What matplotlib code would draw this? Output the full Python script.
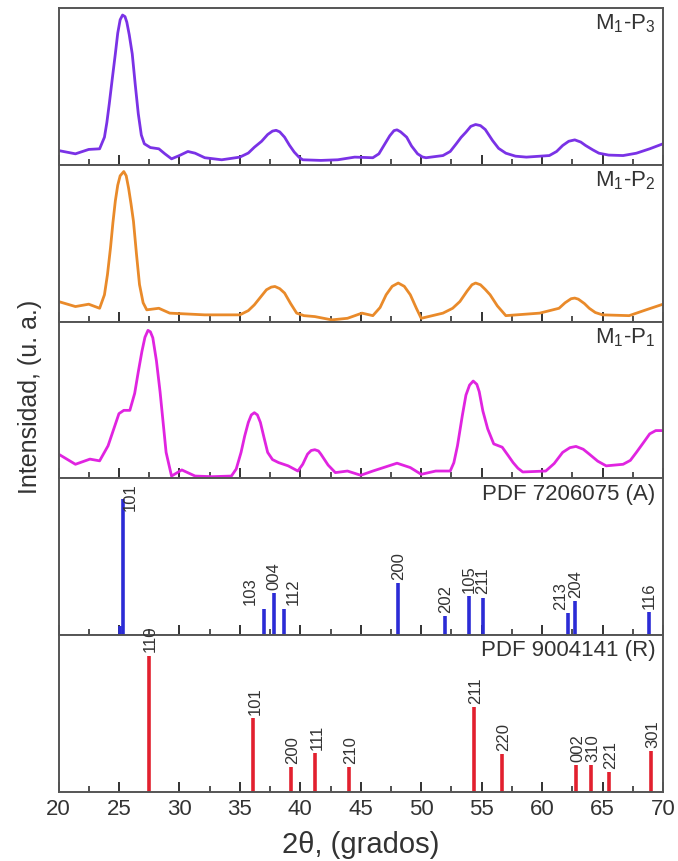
import matplotlib
matplotlib.use("Agg")
import matplotlib.pyplot as plt
from matplotlib.ticker import MultipleLocator

plt.rcParams['font.family'] = ['Liberation Sans', 'DejaVu Sans']
plt.rcParams['mathtext.fontset'] = 'custom'
plt.rcParams['mathtext.rm'] = 'Liberation Sans'
plt.rcParams['mathtext.it'] = 'Liberation Sans:italic'

# M1-P3 pattern (2theta, intensity in % of panel height)
p3_x = [20.0, 21.4, 22.5, 23.4, 23.8, 24.0, 24.2, 24.45, 24.7, 24.9, 25.1, 25.3, 25.5, 25.65,
        25.85, 26.1, 26.35, 26.6, 26.85, 27.1, 27.6, 28.3, 28.8, 29.35, 30.0, 30.7, 31.3, 32.1,
        33.5, 35.0, 35.7, 36.2, 36.8, 37.3, 37.7, 38.0, 38.3, 38.7, 39.1, 39.5, 39.9, 40.2,
        41.7, 43.1, 44.5, 46.0, 46.5, 47.0, 47.4, 47.75, 48.0, 48.3, 48.8, 49.2, 49.7, 50.1,
        50.4, 51.8, 52.4, 52.9, 53.3, 53.7, 54.1, 54.5, 54.9, 55.3, 55.9, 56.4, 57.0, 57.8,
        58.7, 60.6, 61.2, 61.7, 62.2, 62.7, 63.2, 63.6, 64.2, 64.7, 65.5, 66.7, 67.8, 68.9,
        70.0]
p3_y = [9.1, 7.0, 9.8, 10.2, 17.6, 27.0, 38.9, 55.0, 70.7, 84.0, 92.5, 95.5, 94.5, 91.0,
        83.0, 70.7, 51.0, 32.5, 19.0, 13.4, 11.0, 10.2, 7.0, 3.8, 5.9, 8.5, 7.4, 4.5,
        3.2, 4.9, 7.5, 11.2, 15.0, 19.3, 21.5, 22.0, 21.0, 17.6, 12.5, 8.1, 4.8, 3.2,
        2.8, 3.2, 4.9, 4.5, 7.0, 13.4, 18.5, 21.8, 22.3, 21.0, 17.6, 12.0, 7.0, 5.0,
        4.5, 5.9, 8.5, 13.4, 17.5, 20.8, 24.5, 25.7, 25.0, 22.5, 15.5, 10.5, 7.4, 5.5,
        4.9, 5.9, 8.5, 12.3, 15.0, 15.9, 14.5, 12.3, 9.5, 7.4, 6.2, 5.9, 7.4, 10.2,
        13.4]

# M1-P2 pattern
p2_x = [20.0, 21.4, 22.5, 23.4, 23.8, 24.05, 24.3, 24.5, 24.7, 24.9, 25.1, 25.4, 25.6, 25.8,
        26.0, 26.2, 26.45, 26.7, 27.0, 27.3, 28.3, 29.2, 32.1, 35.0, 35.7, 36.2, 36.7, 37.2,
        37.6, 37.9, 38.3, 38.7, 39.2, 39.7, 40.3, 41.2, 42.6, 43.9, 45.1, 46.0, 46.6, 47.1,
        47.6, 48.1, 48.6, 49.1, 49.6, 50.0, 51.8, 52.6, 53.2, 53.8, 54.2, 54.5, 54.9, 55.3,
        55.7, 56.3, 57.0, 59.8, 61.4, 61.9, 62.4, 62.7, 63.0, 63.5, 63.9, 64.4, 65.0, 67.2,
        68.6, 70.0]
p2_y = [12.8, 9.6, 11.1, 8.5, 17.1, 30.0, 47.0, 63.0, 76.9, 87.0, 93.0, 95.7, 93.0, 85.0,
        75.0, 64.0, 43.0, 23.6, 12.0, 7.5, 8.5, 5.4, 4.3, 4.3, 7.0, 10.7, 15.5, 20.3,
        22.0, 22.4, 21.0, 18.2, 11.5, 5.4, 3.8, 3.2, 1.1, 2.1, 5.4, 3.8, 9.0, 17.1,
        22.5, 24.6, 22.5, 17.1, 8.5, 2.1, 5.4, 8.5, 12.8, 19.5, 23.5, 24.6, 23.5, 20.5,
        17.1, 10.0, 3.8, 5.4, 8.5, 12.0, 14.6, 15.0, 14.3, 11.5, 8.5, 5.8, 4.3, 3.8,
        7.5, 11.1]

# M1-P1 pattern
p1_x = [20.0, 21.4, 22.6, 23.4, 24.1, 25.0, 25.4, 25.9, 26.3, 26.6, 26.9, 27.15, 27.4, 27.6,
        27.8, 28.1, 28.4, 28.9, 29.35, 30.2, 31.3, 32.7, 34.3, 34.7, 35.1, 35.4, 35.7, 35.95,
        36.2, 36.45, 36.7, 37.0, 37.3, 37.7, 38.2, 39.0, 39.8, 40.2, 40.6, 40.9, 41.2, 41.5,
        41.7, 42.3, 42.9, 43.9, 45.0, 46.0, 48.0, 49.1, 50.0, 51.2, 52.4, 52.7, 53.0, 53.4,
        53.7, 54.0, 54.3, 54.6, 54.8, 55.1, 55.5, 56.0, 56.4, 56.7, 57.2, 57.6, 58.0, 58.4,
        60.3, 61.0, 61.7, 62.3, 62.8, 63.4, 63.9, 64.6, 65.3, 66.7, 67.3, 67.8, 68.4, 68.9,
        69.4, 70.0]
p1_y = [15.5, 9.0, 12.3, 11.2, 20.8, 41.3, 43.4, 43.4, 54.2, 68.0, 81.0, 90.0, 94.4, 93.5,
        89.7, 75.0, 55.3, 16.6, 1.5, 5.4, 1.5, 1.1, 1.5, 6.0, 16.6, 27.0, 35.7, 40.5,
        41.9, 40.5, 35.7, 26.0, 16.6, 12.0, 10.1, 8.0, 4.7, 9.0, 15.5, 17.8, 18.3, 17.5,
        15.5, 8.5, 3.7, 4.7, 2.0, 4.7, 9.7, 6.9, 2.6, 4.7, 4.7, 10.0, 20.8, 40.0,
        53.1, 59.5, 62.1, 60.0, 55.3, 43.0, 31.6, 22.0, 20.8, 19.9, 14.5, 10.1, 6.5, 4.1,
        4.7, 9.5, 16.6, 19.6, 20.4, 18.6, 15.5, 11.0, 8.0, 9.0, 11.5, 16.6, 23.0, 28.4,
        30.5, 30.5]

# PDF 7206075 (A): reflections (position, relative height, hkl)
a_pos = [25.05, 25.33, 37.0, 37.85, 38.65, 48.1, 52.0, 53.95, 55.1, 62.15, 62.75, 68.85]
a_int = [0.06, 0.87, 0.17, 0.27, 0.17, 0.33, 0.12, 0.25, 0.24, 0.14, 0.22, 0.15]
a_hkl = ['', '101', '103', '004', '112', '200', '202', '105', '211', '213', '204', '116']

# PDF 9004141 (R)
r_pos = [27.45, 36.1, 39.2, 41.25, 44.05, 54.35, 56.65, 62.8, 64.05, 65.5, 69.0]
r_int = [0.87, 0.47, 0.16, 0.25, 0.16, 0.54, 0.24, 0.17, 0.17, 0.125, 0.26]
r_hkl = ['110', '101', '200', '111', '210', '211', '220', '002', '310', '221', '301']

fig = plt.figure(figsize=(6.78, 8.61), dpi=100)
gs = fig.add_gridspec(5, 1, hspace=0, left=58.5 / 678, right=663 / 678,
                      top=1 - 8 / 861, bottom=1 - 792 / 861)
axes = gs.subplots(sharex=True)

frame = '#555555'
txt = '#333333'
for ax in axes:
    ax.set_xlim(20, 70)
    ax.set_yticks([])
    ax.xaxis.set_major_locator(MultipleLocator(5))
    ax.xaxis.set_minor_locator(MultipleLocator(2.5))
    ax.tick_params(axis='x', which='major', direction='in', length=7, width=1.3,
                   color='#222222', labelsize=16, labelcolor=txt, pad=5)
    ax.tick_params(axis='x', which='minor', direction='in', length=4, width=1.1,
                   color='#222222')
    for s in ax.spines.values():
        s.set_color(frame)
        s.set_linewidth(1.4)

curves = [(p3_x, p3_y, '#7a32e6', r'M$_{\mathrm{1}}$-P$_{\mathrm{3}}$'),
          (p2_x, p2_y, '#e98a2a', r'M$_{\mathrm{1}}$-P$_{\mathrm{2}}$'),
          (p1_x, p1_y, '#e024e0', r'M$_{\mathrm{1}}$-P$_{\mathrm{1}}$')]
for ax, (x, y, c, name) in zip(axes[:3], curves):
    ax.plot(x, y, color=c, lw=2.0, solid_joinstyle='round')
    ax.set_ylim(0, 100)
    ax.text(0.987, 0.9, name, transform=ax.transAxes, ha='right', va='center',
            fontsize=16, color=txt)

# label nudges (dx in degrees) for crowded sticks
a_dx = {'101': 0.6, '103': -1.1, '112': 0.8, '213': -0.65}

ax = axes[3]
ax.set_ylim(0, 1)
ax.vlines(a_pos, 0, a_int, color='#2b2bd6', lw=2.6)
for p, h, lab in zip(a_pos, a_int, a_hkl):
    if not lab:
        continue
    if lab == '101':
        ax.text(p + a_dx[lab], h + 0.1, lab, rotation=90, ha='center', va='top',
                fontsize=12, color=txt)
    else:
        ax.text(p + a_dx.get(lab, 0), h + 0.02, lab, rotation=90, ha='center',
                va='bottom', fontsize=12, color=txt)
ax.text(0.987, 0.9, 'PDF 7206075 (A)', transform=ax.transAxes, ha='right',
        va='center', fontsize=16, color=txt)

ax = axes[4]
ax.set_ylim(0, 1)
ax.vlines(r_pos, 0, r_int, color='#e2202e', lw=2.6)
for p, h, lab in zip(r_pos, r_int, r_hkl):
    ax.text(p + 0.15, h + 0.02, lab, rotation=90, ha='center', va='bottom',
            fontsize=12, color=txt, clip_on=False)
ax.text(0.987, 0.9, 'PDF 9004141 (R)', transform=ax.transAxes, ha='right',
        va='center', fontsize=16, color=txt)

fig.text(361 / 678, 1 - 845 / 861, '2θ, (grados)', ha='center',
         va='center', fontsize=21, color=txt)
fig.text(30 / 678, 1 - 397 / 861, 'Intensidad, (u. a.)', rotation=90, ha='center',
         va='center', fontsize=18, color=txt)

fig.savefig('out.png', dpi=100)
